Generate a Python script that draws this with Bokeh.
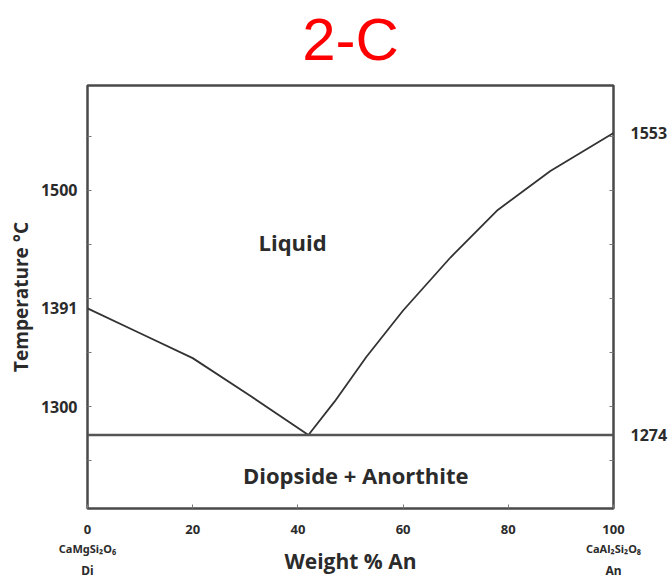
from bokeh.plotting import figure
from bokeh.models import (Range1d, LinearAxis, FixedTicker, Label)
from bokeh.embed import file_html
from bokeh.resources import INLINE

# ---- data ----
left_x = [0, 10, 20, 31, 42]
left_t = [1391, 1368, 1345, 1310, 1274]
right_x = [42, 47, 53, 60, 69, 78, 88, 100]
right_t = [1274, 1305, 1346, 1389, 1438, 1482, 1518, 1553]
eutectic_t = 1274
x_ticks = [0, 20, 40, 60, 80, 100]
end_x = [0, 100]
end_formula = ["CaMgSi₂O₆", "CaAl₂Si₂O₈"]
end_short = ["Di", "An"]
left_labels = [1300, 1391, 1500]
right_labels = [1274, 1553]
minor_t = [1250, 1300, 1350, 1400, 1450, 1500, 1550]

FONT = "Open Sans"
TXT = "#2b2b2b"

p = figure(width=671, height=581, output_backend="svg", toolbar_location=None,
           x_range=Range1d(0, 100), y_range=Range1d(1206, 1597),
           min_border_left=87, min_border_right=58, min_border_top=85,
           min_border_bottom=73, x_axis_location=None, y_axis_location=None)
p.grid.visible = False
p.outline_line_color = "#4a4a4a"
p.outline_line_width = 2.5
p.background_fill_color = "white"
p.border_fill_color = "white"

# title
p.title.text = "2-C"
p.title.align = "center"
p.title.vertical_align = "top"
p.title.text_font = "Liberation Sans"
p.title.text_font_style = "normal"
p.title.text_font_size = "60px"
p.title.text_color = "#ff0000"
p.title.standoff = -4
p.title.offset = 0

# invisible spacer axis between frame and title
spacer = LinearAxis(ticker=FixedTicker(ticks=[50]),
                    major_label_overrides={50: "."})
spacer.axis_line_color = None
spacer.major_tick_line_color = None
spacer.minor_tick_line_color = None
spacer.major_tick_in = 0
spacer.major_tick_out = 13
spacer.minor_tick_out = 0
spacer.major_label_standoff = 0
spacer.major_label_text_font_size = "1px"
spacer.major_label_text_color = None
p.add_layout(spacer, "above")


def style_labels(ax, size="13px", family=FONT):
    ax.axis_line_color = None
    ax.major_label_text_font = family
    ax.major_label_text_font_style = "bold"
    ax.major_label_text_font_size = size
    ax.major_label_text_color = TXT


# bottom axis with numbers
xa = LinearAxis(ticker=FixedTicker(ticks=x_ticks))
style_labels(xa, "13px")
xa.major_tick_in = 4
xa.major_tick_out = 0
xa.major_tick_line_color = "#777777"
xa.minor_tick_line_color = None
xa.major_label_standoff = 16
p.add_layout(xa, "below")

# end-member formulas
fa = LinearAxis(ticker=FixedTicker(ticks=end_x),
                major_label_overrides={x: f for x, f in zip(end_x, end_formula)})
style_labels(fa, "11px", "Noto Sans")
fa.major_tick_line_color = None
fa.minor_tick_line_color = None
fa.major_tick_in = 0
fa.major_tick_out = 0
fa.major_label_standoff = 4
p.add_layout(fa, "below")

# end-member abbreviations + axis title
sa = LinearAxis(ticker=FixedTicker(ticks=end_x),
                major_label_overrides={x: s for x, s in zip(end_x, end_short)},
                axis_label="Weight % An")
style_labels(sa, "12px", "Noto Sans")
sa.major_tick_line_color = None
sa.minor_tick_line_color = None
sa.major_tick_in = 0
sa.major_tick_out = 0
sa.major_label_standoff = 3
sa.axis_label_text_font = FONT
sa.axis_label_text_font_style = "bold"
sa.axis_label_text_font_size = "21px"
sa.axis_label_text_color = TXT
sa.axis_label_standoff = -35
p.add_layout(sa, "below")

# left axis
ya = LinearAxis(ticker=FixedTicker(ticks=left_labels, minor_ticks=minor_t),
                axis_label="Temperature °C")
style_labels(ya, "16px")
ya.major_tick_in = 0
ya.major_tick_out = 0
ya.minor_tick_in = 4
ya.minor_tick_out = 0
ya.minor_tick_line_color = "#777777"
ya.major_label_standoff = 10
ya.axis_label_text_font = FONT
ya.axis_label_text_font_style = "bold"
ya.axis_label_text_font_size = "19px"
ya.axis_label_text_color = TXT
ya.axis_label_standoff = 4
p.add_layout(ya, "left")

# right axis
ra = LinearAxis(ticker=FixedTicker(ticks=right_labels, minor_ticks=minor_t))
style_labels(ra, "16px")
ra.major_tick_in = 0
ra.major_tick_out = 0
ra.minor_tick_in = 4
ra.minor_tick_out = 0
ra.minor_tick_line_color = "#777777"
ra.major_label_standoff = 17
p.add_layout(ra, "right")

# curves
p.line(left_x, left_t, line_color="#333333", line_width=1.8)
p.line(right_x, right_t, line_color="#333333", line_width=1.8)
p.line([x_ticks[0], x_ticks[-1]], [eutectic_t, eutectic_t],
       line_color="#555555", line_width=2.6)

# region labels
p.add_layout(Label(x=39, y=1452, text="Liquid", text_align="center",
                   text_baseline="middle", text_font=FONT,
                   text_font_style="bold", text_font_size="22px",
                   text_color=TXT))
p.add_layout(Label(x=51, y=1237, text="Diopside + Anorthite",
                   text_align="center", text_baseline="middle",
                   text_font=FONT, text_font_style="bold",
                   text_font_size="22px", text_color=TXT))

open("out.html", "w").write(file_html(p, INLINE))
